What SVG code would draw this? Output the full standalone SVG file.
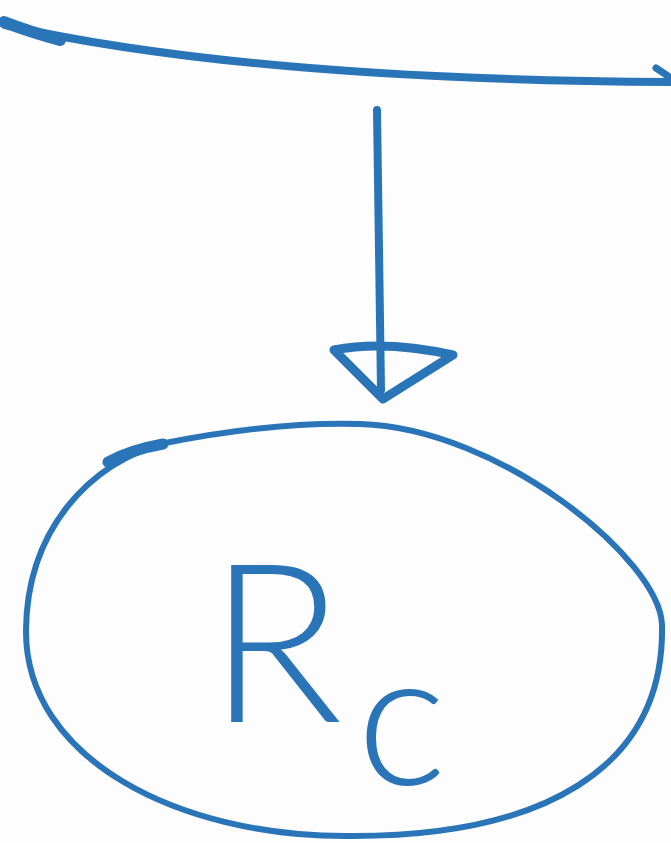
<svg xmlns="http://www.w3.org/2000/svg" width="671" height="843" viewBox="0 0 671 843">
<style>
.ink{fill:none;stroke:#2a74b8;stroke-width:7;stroke-linecap:round;stroke-linejoin:round}
.lbl{fill:#2a74b8;font-family:Lato,"Liberation Sans",Arial,sans-serif;font-weight:300}
</style>
<rect width="671" height="843" fill="#fdfdfd"/>
<g id="connectors">
<path class="ink" d="M5,25 Q250,80 671,82" style="stroke-width:8"/>
<path class="ink" d="M4,22 Q30,32 60,40" style="stroke-width:12"/>
<path class="ink" d="M656,68 L671,78"/>
<path class="ink" d="M377,110 L381,390" style="stroke-width:8"/>
<path class="ink" d="M334,350 Q385,340 453,355 L383,399 Z" style="stroke-width:9"/>
</g>
<g id="node-rc">
<path class="ink" d="M165,443 C90,462 27,530 26,630 C25,760 180,836 345,836 C540,838 665,770 662,625 C660,560 500,428 360,424 C290,422 220,432 165,443 Z" style="stroke-width:6"/>
<path class="ink" d="M108,462 Q130,450 163,444" style="stroke-width:11"/>
<text class="lbl" x="208" y="722" font-size="222">R<tspan font-size="190" dy="63" dx="14">c</tspan></text>
</g>
</svg>
